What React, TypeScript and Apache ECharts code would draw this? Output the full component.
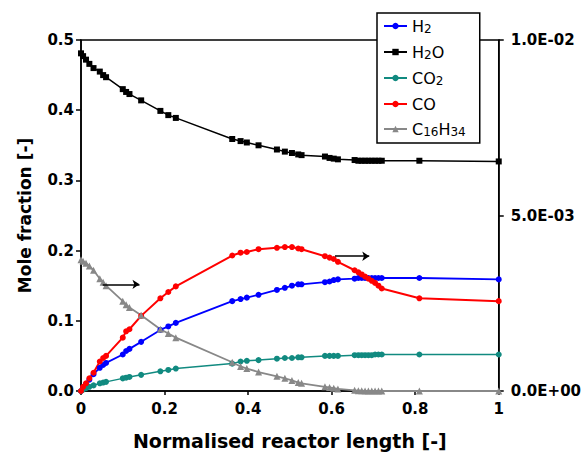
import React, { useEffect, useRef } from "react";
import * as echarts from "echarts";

const xs = [0, 0.005, 0.012, 0.02, 0.03, 0.045, 0.053, 0.06, 0.1, 0.108, 0.116, 0.144, 0.19, 0.209, 0.227, 0.362, 0.382, 0.397, 0.425, 0.469, 0.488, 0.505, 0.52, 0.528, 0.584, 0.595, 0.605, 0.615, 0.655, 0.664, 0.672, 0.68, 0.688, 0.696, 0.704, 0.712, 0.72, 0.81, 1.0];
const h2 = [0, 0.005, 0.010, 0.016, 0.024, 0.033, 0.037, 0.040, 0.052, 0.057, 0.060, 0.070, 0.087, 0.092, 0.097, 0.128, 0.131, 0.133, 0.137, 0.144, 0.147, 0.150, 0.152, 0.152, 0.155, 0.156, 0.158, 0.159, 0.160, 0.161, 0.161, 0.161, 0.161, 0.161, 0.161, 0.161, 0.161, 0.161, 0.159];
const h2o = [0.481, 0.477, 0.472, 0.466, 0.460, 0.455, 0.450, 0.447, 0.430, 0.426, 0.423, 0.414, 0.399, 0.393, 0.389, 0.359, 0.356, 0.354, 0.350, 0.344, 0.341, 0.339, 0.337, 0.336, 0.334, 0.332, 0.331, 0.330, 0.329, 0.328, 0.328, 0.328, 0.328, 0.328, 0.328, 0.328, 0.328, 0.328, 0.327];
const co2 = [0, 0.002, 0.004, 0.006, 0.008, 0.011, 0.012, 0.013, 0.018, 0.019, 0.020, 0.023, 0.028, 0.030, 0.032, 0.039, 0.042, 0.043, 0.044, 0.046, 0.047, 0.047, 0.048, 0.048, 0.050, 0.050, 0.050, 0.050, 0.051, 0.051, 0.051, 0.051, 0.051, 0.051, 0.052, 0.052, 0.052, 0.052, 0.052];
const co = [0, 0.006, 0.011, 0.018, 0.026, 0.042, 0.047, 0.050, 0.076, 0.085, 0.088, 0.107, 0.132, 0.141, 0.149, 0.193, 0.197, 0.198, 0.202, 0.204, 0.205, 0.205, 0.203, 0.202, 0.192, 0.190, 0.188, 0.184, 0.172, 0.169, 0.166, 0.163, 0.160, 0.157, 0.154, 0.150, 0.146, 0.132, 0.128];
// C16H34 on the right axis
const c16h34 = [0.00374, 0.0037, 0.00364, 0.00356, 0.00344, 0.0032, 0.0031, 0.003, 0.00256, 0.00246, 0.00238, 0.00216, 0.00176, 0.00164, 0.00152, 0.00082, 0.0007, 0.00064, 0.00054, 0.00042, 0.00036, 0.0003, 0.00024, 0.00022, 0.00012, 0.0001, 0.00008, 0.00006, 0.00002, 0.00001, 0.00001, 0, 0, 0, 0, 0, 0, 0, 0];

const seriesNames = ["H2", "H2O", "CO2", "CO", "C16H34"];
const legendRich: Record<string, string> = {
  H2: "{n|H}{s|2}",
  H2O: "{n|H}{s|2}{n|O}",
  CO2: "{n|CO}{s|2}",
  CO: "{n|CO}",
  C16H34: "{n|C}{s|16}{n|H}{s|34}",
};

// annotation arrows (data coordinates, left axis)
const arrow1 = [[0.052, 0.152], [0.14, 0.152]];
const arrow2 = [[0.608, 0.192], [0.69, 0.192]];

const pair = (ys: number[]) => xs.map((x, i) => [x, ys[i]]);

const expFmt = (v: number) => {
  const [m, e] = v.toExponential(1).split("e");
  const sign = e[0];
  const d = e.slice(1).padStart(2, "0");
  return `${m}E${sign}${d}`;
};

export default function App() {
  const ref = useRef<HTMLDivElement>(null);
  useEffect(() => {
    document.body.style.margin = "0";
    const chart = echarts.init(ref.current!, null, { renderer: "svg" });
    const labelFont = { fontFamily: "DejaVu Sans", fontWeight: "bold" as const, fontSize: 15, color: "#000" };
    const arrowLine = (pts: number[][]) => [{ coord: pts[0] }, { coord: pts[1] }];
    chart.setOption({
      animation: false,
      backgroundColor: "#fff",
      grid: { left: 81, right: 83, top: 40, bottom: 62, show: true, borderColor: "#000", borderWidth: 1.5, backgroundColor: "transparent" },
      legend: {
        orient: "vertical",
        left: 377,
        top: 13,
        padding: [5, 14, 5, 6],
        itemGap: 9,
        itemWidth: 23,
        itemHeight: 8,
        backgroundColor: "#fff",
        borderColor: "#000",
        borderWidth: 1.5,
        data: seriesNames,
        formatter: (name: string) => legendRich[name],
        textStyle: {
          rich: {
            n: { fontFamily: "DejaVu Sans", fontSize: 16, color: "#000", lineHeight: 18 },
            s: { fontFamily: "DejaVu Sans", fontSize: 12, color: "#000", lineHeight: 12, verticalAlign: "bottom" },
          },
        },
      },
      xAxis: {
        type: "value",
        min: 0,
        max: 1,
        interval: 0.2,
        name: "Normalised reactor length [-]",
        nameLocation: "middle",
        nameGap: 40,
        nameTextStyle: { fontFamily: "DejaVu Sans", fontWeight: "bold", fontSize: 19, color: "#000" },
        axisLine: { lineStyle: { color: "#000", width: 1.5 } },
        axisTick: { show: true, length: 4, lineStyle: { color: "#000", width: 1.5 } },
        axisLabel: { ...labelFont, margin: 10, formatter: (v: number) => String(+v.toFixed(1)) },
        splitLine: { show: false },
      },
      yAxis: [
        {
          type: "value",
          min: 0,
          max: 0.5,
          interval: 0.1,
          name: "Mole fraction [-]",
          nameLocation: "middle",
          nameGap: 48,
          nameTextStyle: { fontFamily: "DejaVu Sans", fontWeight: "bold", fontSize: 17, color: "#000" },
          axisLine: { show: true, lineStyle: { color: "#000", width: 1.5 } },
          axisTick: { show: true, length: 5, lineStyle: { color: "#000", width: 1.5 } },
          axisLabel: { ...labelFont, margin: 7, formatter: (v: number) => v.toFixed(1) },
          splitLine: { show: false },
        },
        {
          type: "value",
          min: 0,
          max: 0.01,
          interval: 0.005,
          position: "right",
          axisLine: { show: true, lineStyle: { color: "#000", width: 1.5 } },
          axisTick: { show: true, length: 5, lineStyle: { color: "#000", width: 1.5 } },
          axisLabel: { ...labelFont, margin: 12, formatter: expFmt },
          splitLine: { show: false },
        },
      ],
      series: [
        {
          name: "H2", type: "line", data: pair(h2), yAxisIndex: 0,
          symbol: "circle", symbolSize: 6, color: "#0000ff",
          lineStyle: { width: 1.8, color: "#0000ff" }, itemStyle: { color: "#0000ff" },
        },
        {
          name: "H2O", type: "line", data: pair(h2o), yAxisIndex: 0,
          symbol: "rect", symbolSize: 6, color: "#000",
          lineStyle: { width: 1.5, color: "#000" }, itemStyle: { color: "#000" },
          markLine: {
            silent: true,
            symbol: ["none", "arrow"],
            symbolSize: 7,
            label: { show: false },
            lineStyle: { color: "#000", width: 1.5, type: "solid" },
            data: [arrowLine(arrow1), arrowLine(arrow2)],
          },
        },
        {
          name: "CO2", type: "line", data: pair(co2), yAxisIndex: 0,
          symbol: "circle", symbolSize: 6, color: "#118a80",
          lineStyle: { width: 1.5, color: "#118a80" }, itemStyle: { color: "#118a80" },
        },
        {
          name: "CO", type: "line", data: pair(co), yAxisIndex: 0,
          symbol: "circle", symbolSize: 6, color: "#ff0000",
          lineStyle: { width: 2, color: "#ff0000" }, itemStyle: { color: "#ff0000" },
        },
        {
          name: "C16H34", type: "line", data: pair(c16h34), yAxisIndex: 1,
          symbol: "triangle", symbolSize: 7, color: "#888888",
          lineStyle: { width: 1.8, color: "#888888" }, itemStyle: { color: "#888888" },
        },
      ],
    });
    return () => chart.dispose();
  }, []);
  return <div ref={ref} style={{ width: 584, height: 455 }} />;
}
